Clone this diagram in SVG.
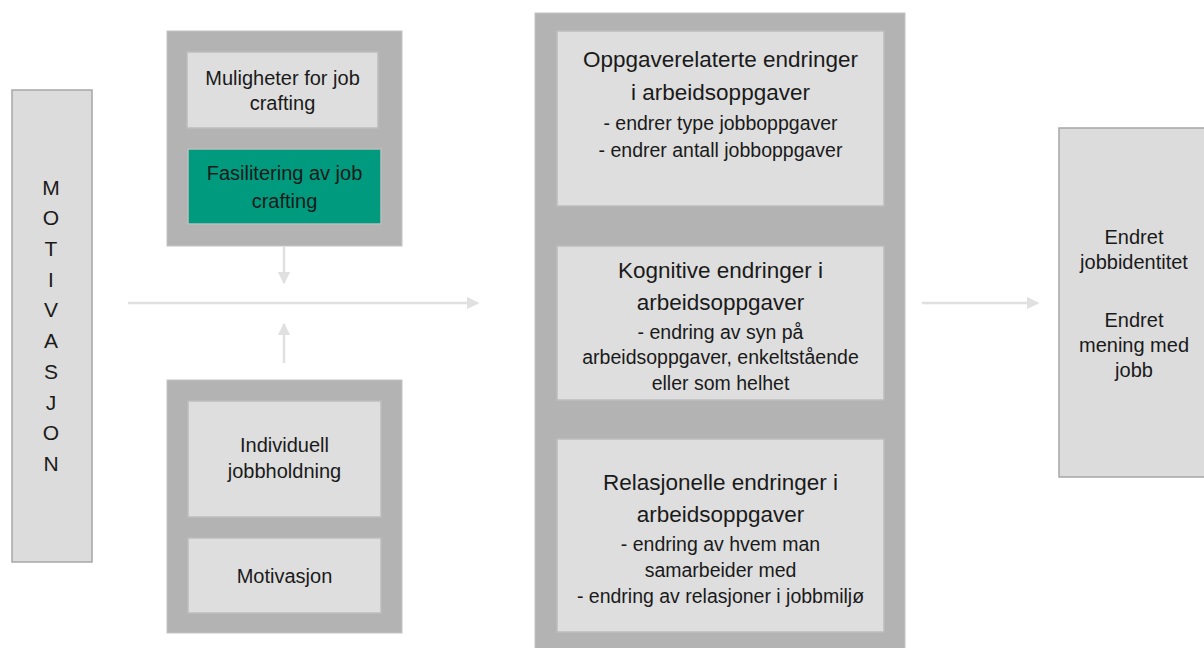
<svg xmlns="http://www.w3.org/2000/svg" width="1204" height="648" viewBox="0 0 1204 648">
<style>
.outer{fill:#b3b3b3;stroke:#c4c4c4;stroke-width:1}
.inner{fill:#dedede;stroke:#bdbdbd;stroke-width:1.5}
.teal{fill:#009b7e;stroke:#bdbdbd;stroke-width:1.5}
.side{fill:#dcdcdc;stroke:#a6a6a6;stroke-width:1.5}
text{font-family:"Liberation Sans",Arial,sans-serif;fill:#1a1a1a;text-anchor:middle}
.s20{font-size:20px}
.sub{font-size:19.5px}
.let{font-size:21px}
.t22{font-size:22.5px}
.conn{stroke:#e0e0e0;stroke-width:2.5;fill:none}
</style>
<defs>
<marker id="ah" viewBox="0 0 10 10" refX="9" refY="5" markerWidth="5" markerHeight="5" markerUnits="strokeWidth" orient="auto">
<path d="M0,0 L10,5 L0,10 Z" fill="#e0e0e0"/>
</marker>
</defs>
<rect width="1204" height="648" fill="#ffffff"/>

<g id="connectors">
<line class="conn" x1="128" y1="303" x2="478" y2="303" marker-end="url(#ah)"/>
<line class="conn" x1="284" y1="247" x2="284" y2="283" marker-end="url(#ah)"/>
<line class="conn" x1="284" y1="363" x2="284" y2="324" marker-end="url(#ah)"/>
<line class="conn" x1="922" y1="303" x2="1038" y2="303" marker-end="url(#ah)"/>
</g>

<g id="motivasjon-bar">
<rect class="side" x="12" y="90" width="80" height="472"/>
<text class="let" x="51" y="195">M</text>
<text class="let" x="51" y="225">O</text>
<text class="let" x="51" y="256">T</text>
<text class="let" x="51" y="287">I</text>
<text class="let" x="51" y="317">V</text>
<text class="let" x="51" y="348">A</text>
<text class="let" x="51" y="379">S</text>
<text class="let" x="51" y="410">J</text>
<text class="let" x="51" y="440">O</text>
<text class="let" x="51" y="471">N</text>
</g>

<g id="top-left-group">
<rect class="outer" x="167" y="31" width="235" height="215"/>
<g id="muligheter">
<rect class="inner" x="187" y="52" width="191" height="76"/>
<text class="s20" x="282.5" y="85">Muligheter for job</text>
<text class="s20" x="282.5" y="110">crafting</text>
</g>
<g id="fasilitering">
<rect class="teal" x="188" y="149" width="193" height="75"/>
<text class="s20" x="284.5" y="180">Fasilitering av job</text>
<text class="s20" x="284.5" y="208">crafting</text>
</g>
</g>

<g id="bottom-left-group">
<rect class="outer" x="167" y="380" width="235" height="253"/>
<g id="individuell">
<rect class="inner" x="188" y="401" width="193" height="116"/>
<text class="s20" x="284.5" y="452">Individuell</text>
<text class="s20" x="284.5" y="478">jobbholdning</text>
</g>
<g id="motivasjon">
<rect class="inner" x="188" y="538" width="193" height="75"/>
<text class="s20" x="284.5" y="583">Motivasjon</text>
</g>
</g>

<g id="middle-group">
<rect class="outer" x="535" y="13" width="370" height="645"/>
<g id="oppgaverelaterte">
<rect class="inner" x="557" y="31" width="327" height="175"/>
<text class="t22" x="720.5" y="67">Oppgaverelaterte endringer</text>
<text class="t22" x="720.5" y="100">i arbeidsoppgaver</text>
<text class="sub" x="720.5" y="130">- endrer type jobboppgaver</text>
<text class="sub" x="720.5" y="157">- endrer antall jobboppgaver</text>
</g>
<g id="kognitive">
<rect class="inner" x="557" y="246" width="327" height="154"/>
<text class="t22" x="720.5" y="278">Kognitive endringer i</text>
<text class="t22" x="720.5" y="310">arbeidsoppgaver</text>
<text class="sub" x="720.5" y="339">- endring av syn på</text>
<text class="sub" x="720.5" y="364">arbeidsoppgaver, enkeltstående</text>
<text class="sub" x="720.5" y="390">eller som helhet</text>
</g>
<g id="relasjonelle">
<rect class="inner" x="557" y="439" width="327" height="193"/>
<text class="t22" x="720.5" y="490">Relasjonelle endringer i</text>
<text class="t22" x="720.5" y="522">arbeidsoppgaver</text>
<text class="sub" x="720.5" y="551">- endring av hvem man</text>
<text class="sub" x="720.5" y="577">samarbeider med</text>
<text class="sub" x="720.5" y="603">- endring av relasjoner i jobbmiljø</text>
</g>
</g>

<g id="resultat">
<rect class="side" x="1059" y="128" width="150" height="349"/>
<text class="s20" x="1134" y="244">Endret</text>
<text class="s20" x="1134" y="269">jobbidentitet</text>
<text class="s20" x="1134" y="327">Endret</text>
<text class="s20" x="1134" y="352">mening med</text>
<text class="s20" x="1134" y="377">jobb</text>
</g>
</svg>
